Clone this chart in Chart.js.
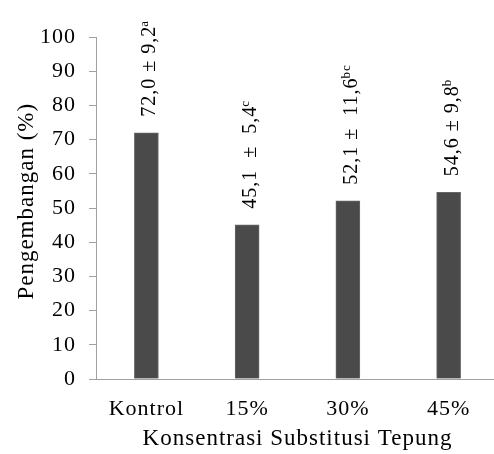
<!DOCTYPE html>
<html>
<head>
<meta charset="utf-8">
<script src="https://cdn.jsdelivr.net/npm/chart.js@4.4.0/dist/chart.umd.min.js"></script>
<style>
    html, body { margin: 0; padding: 0; background: #fff; overflow: hidden; }
    canvas { display: block; }
</style>
</head>
<body>
<canvas id="chart1" width="500" height="454"></canvas>
<script>
'use strict'

var categories = ['Kontrol', '15%', '30%', '45%'];
var values = [72.0, 45.1, 52.1, 54.6];
var sdValues = ['9,2', '5,4', '11,6', '9,8'];
var sdGaps = [' \u00B1 ', '  \u00B1  ', ' \u00B1  ', ' \u00B1 '];
var letters = ['a', 'c', 'bc', 'b'];

var serif = "'Liberation Serif', 'Times New Roman', serif";

/* canvas letter spacing, the reference text is spaced a bit wide */
var spacing = {
    id: 'spacing',
    beforeUpdate: function (chart) { chart.ctx.letterSpacing = '1px'; },
    beforeLayout: function (chart) { chart.ctx.letterSpacing = '1px'; },
    beforeDraw: function (chart) { chart.ctx.letterSpacing = '1px'; }
};

/* rotated value labels with superscript letters */
var valueLabels = {
    id: 'valueLabels',
    afterDatasetsDraw: function (chart) {
        var ctx = chart.ctx;
        var meta = chart.getDatasetMeta(0);
        meta.data.forEach(function (bar, i) {
            var text = values[i].toFixed(1).replace('.', ',') + sdGaps[i] + sdValues[i];
            ctx.save();
            ctx.translate(bar.x + 9, bar.y - 16);
            ctx.rotate(-Math.PI / 2);
            ctx.fillStyle = '#000';
            ctx.textAlign = 'left';
            ctx.textBaseline = 'alphabetic';
            ctx.font = '20px ' + serif;
            ctx.fillText(text, 0, 0);
            var w = ctx.measureText(text).width;
            ctx.font = '13px ' + serif;
            ctx.fillText(letters[i], w - 1, -7);
            ctx.restore();
        });
    }
};

var ctx = document.getElementById('chart1').getContext('2d');
var mychart = new Chart(ctx, {
    type: 'bar',
    data: {
        labels: categories,
        datasets: [{
            data: values,
            backgroundColor: '#4a4a4a',
            borderColor: '#666666',
            borderWidth: 1,
            barThickness: 24
        }]
    },
    options: {
        responsive: false,
        animation: false,
        layout: {
            padding: { top: 37, right: 1, bottom: 0, left: 0 }
        },
        plugins: {
            legend: { display: false },
            tooltip: { enabled: false }
        },
        scales: {
            y: {
                min: 0,
                max: 100,
                afterFit: function (scale) { scale.width = 96; },
                ticks: {
                    stepSize: 10,
                    padding: 13,
                    color: '#000',
                    font: { family: serif, size: 22 }
                },
                grid: {
                    drawOnChartArea: false,
                    drawTicks: true,
                    tickLength: 7,
                    color: '#a0a0a0'
                },
                border: { color: '#a0a0a0', width: 1 },
                title: {
                    display: true,
                    // leading spaces lift the title a little, as in the reference
                    text: '  Pengembangan (%)',
                    color: '#000',
                    font: { family: serif, size: 23 },
                    padding: { top: 13, bottom: 0 }
                }
            },
            x: {
                afterFit: function (scale) { scale.height = 75; },
                ticks: {
                    padding: 17,
                    color: '#000',
                    font: { family: serif, size: 22 }
                },
                grid: { display: false, drawTicks: false },
                border: { color: '#a0a0a0', width: 1 },
                title: {
                    display: true,
                    text: 'Konsentrasi Substitusi Tepung',
                    color: '#000',
                    font: { family: serif, size: 23 },
                    padding: { top: 0, bottom: 1 }
                }
            }
        }
    },
    plugins: [spacing, valueLabels]
});
</script>
</body>
</html>
